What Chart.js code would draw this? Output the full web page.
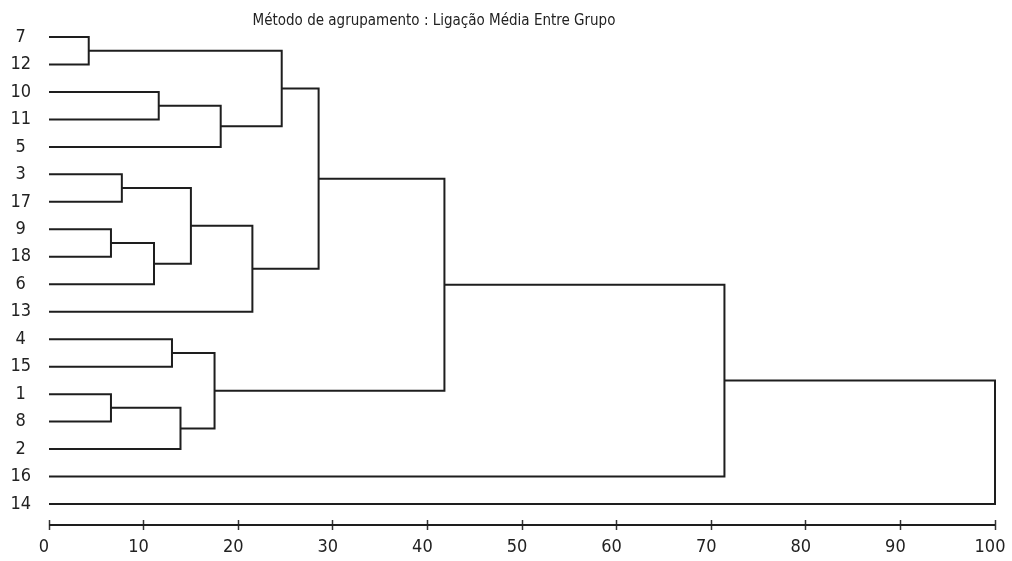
<!DOCTYPE html>
<html>
  <head>
    <title>Dendrograma</title>
    <script src="https://cdn.jsdelivr.net/npm/chart.js"></script>
    <style>
      body {
        margin: 0;
        background: #fff;
      }
      #wrap {
        position: relative;
        width: 1012px;
        height: 561px;
      }
      #title {
        position: absolute;
        left: 234px;
        top: 11px;
        width: 400px;
        text-align: center;
        font-family: "Liberation Sans Narrow", "DejaVu Sans Condensed", sans-serif;
        font-size: 15px;
        color: #222;
      }
    </style>
  </head>
  <body>
    <div id="wrap">
      <canvas id="dendro"></canvas>
      <div id="title">Método de agrupamento : Ligação Média Entre Grupo</div>
    </div>
    <script>
      // leaves, top to bottom
      const leafLabels = ["7", "12", "10", "11", "5", "3", "17", "9", "18", "6", "13", "4", "15", "1", "8", "2", "16", "14"];

      // merges: ids 0-17 are leaves, merge k gets id 18 + k
      const mergeA = [0, 2, 19, 18, 5, 7, 23, 22, 25, 21, 11, 13, 29, 28, 27, 32, 33];
      const mergeB = [1, 3, 4, 20, 6, 8, 9, 24, 10, 26, 12, 14, 15, 30, 31, 16, 17];
      const mergeHeight = [4.2, 11.6, 18.15, 24.6, 7.7, 6.55, 11.1, 15.0, 21.5, 28.5, 13.0, 6.55, 13.9, 17.5, 41.8, 71.4, 100];

      const xTicks = [0, 10, 20, 30, 40, 50, 60, 70, 80, 90, 100];

      const nodeY = leafLabels.map((_, i) => i);
      const nodeH = leafLabels.map(() => 0);
      const datasets = [];
      mergeA.forEach((a, k) => {
        const b = mergeB[k];
        const h = mergeHeight[k];
        datasets.push({
          data: [
            { x: nodeH[a], y: nodeY[a] },
            { x: h, y: nodeY[a] },
            { x: h, y: nodeY[b] },
            { x: nodeH[b], y: nodeY[b] },
          ],
          showLine: true,
          borderColor: "#1e1e1e",
          borderWidth: 2,
          pointRadius: 0,
          clip: false,
        });
        nodeY.push((nodeY[a] + nodeY[b]) / 2);
        nodeH.push(h);
      });

      const narrow = "'Liberation Sans Narrow', 'DejaVu Sans Condensed', sans-serif";

      const axisLine = {
        id: "axisLine",
        afterDraw(chart) {
          const sx = chart.scales.x;
          const ctx = chart.ctx;
          const y = sx.top + 5;
          ctx.save();
          ctx.strokeStyle = "#1e1e1e";
          ctx.lineWidth = 2;
          ctx.beginPath();
          ctx.moveTo(sx.getPixelForValue(xTicks[0]), y);
          ctx.lineTo(sx.getPixelForValue(xTicks[xTicks.length - 1]), y);
          ctx.stroke();
          ctx.restore();
        },
      };

      const ctx = document.getElementById("dendro").getContext("2d");
      new Chart(ctx, {
        type: "scatter",
        data: { datasets },
        plugins: [axisLine],
        options: {
          responsive: true,
          maintainAspectRatio: false,
          animation: false,
          layout: { padding: { top: 10, right: 17, bottom: 0, left: 0 } },
          plugins: {
            legend: { display: false },
            tooltip: { enabled: false },
          },
          scales: {
            x: {
              type: "linear",
              min: 0,
              max: 100,
              afterBuildTicks: (axis) => {
                axis.ticks = xTicks.map((v) => ({ value: v }));
              },
              afterFit: (axis) => {
                axis.height = 41;
                axis.paddingLeft = 0;
                axis.paddingRight = 0;
              },
              grid: {
                drawOnChartArea: false,
                tickLength: 10,
                tickColor: "#333",
                tickWidth: 1.5,
              },
              border: { display: false },
              ticks: {
                padding: 7,
                labelOffset: -5,
                color: "#222",
                font: { family: narrow, size: 18 },
                maxRotation: 0,
              },
            },
            y: {
              type: "linear",
              reverse: true,
              min: -0.59,
              max: 17.582,
              afterBuildTicks: (axis) => {
                axis.ticks = leafLabels.map((_, i) => ({ value: i }));
              },
              afterFit: (axis) => {
                axis.width = 49;
              },
              grid: { display: false },
              border: { display: false },
              ticks: {
                crossAlign: "center",
                padding: 10,
                color: "#222",
                font: { family: narrow, size: 18 },
                callback: (v) => leafLabels[v],
              },
            },
          },
        },
      });
    </script>
  </body>
</html>
